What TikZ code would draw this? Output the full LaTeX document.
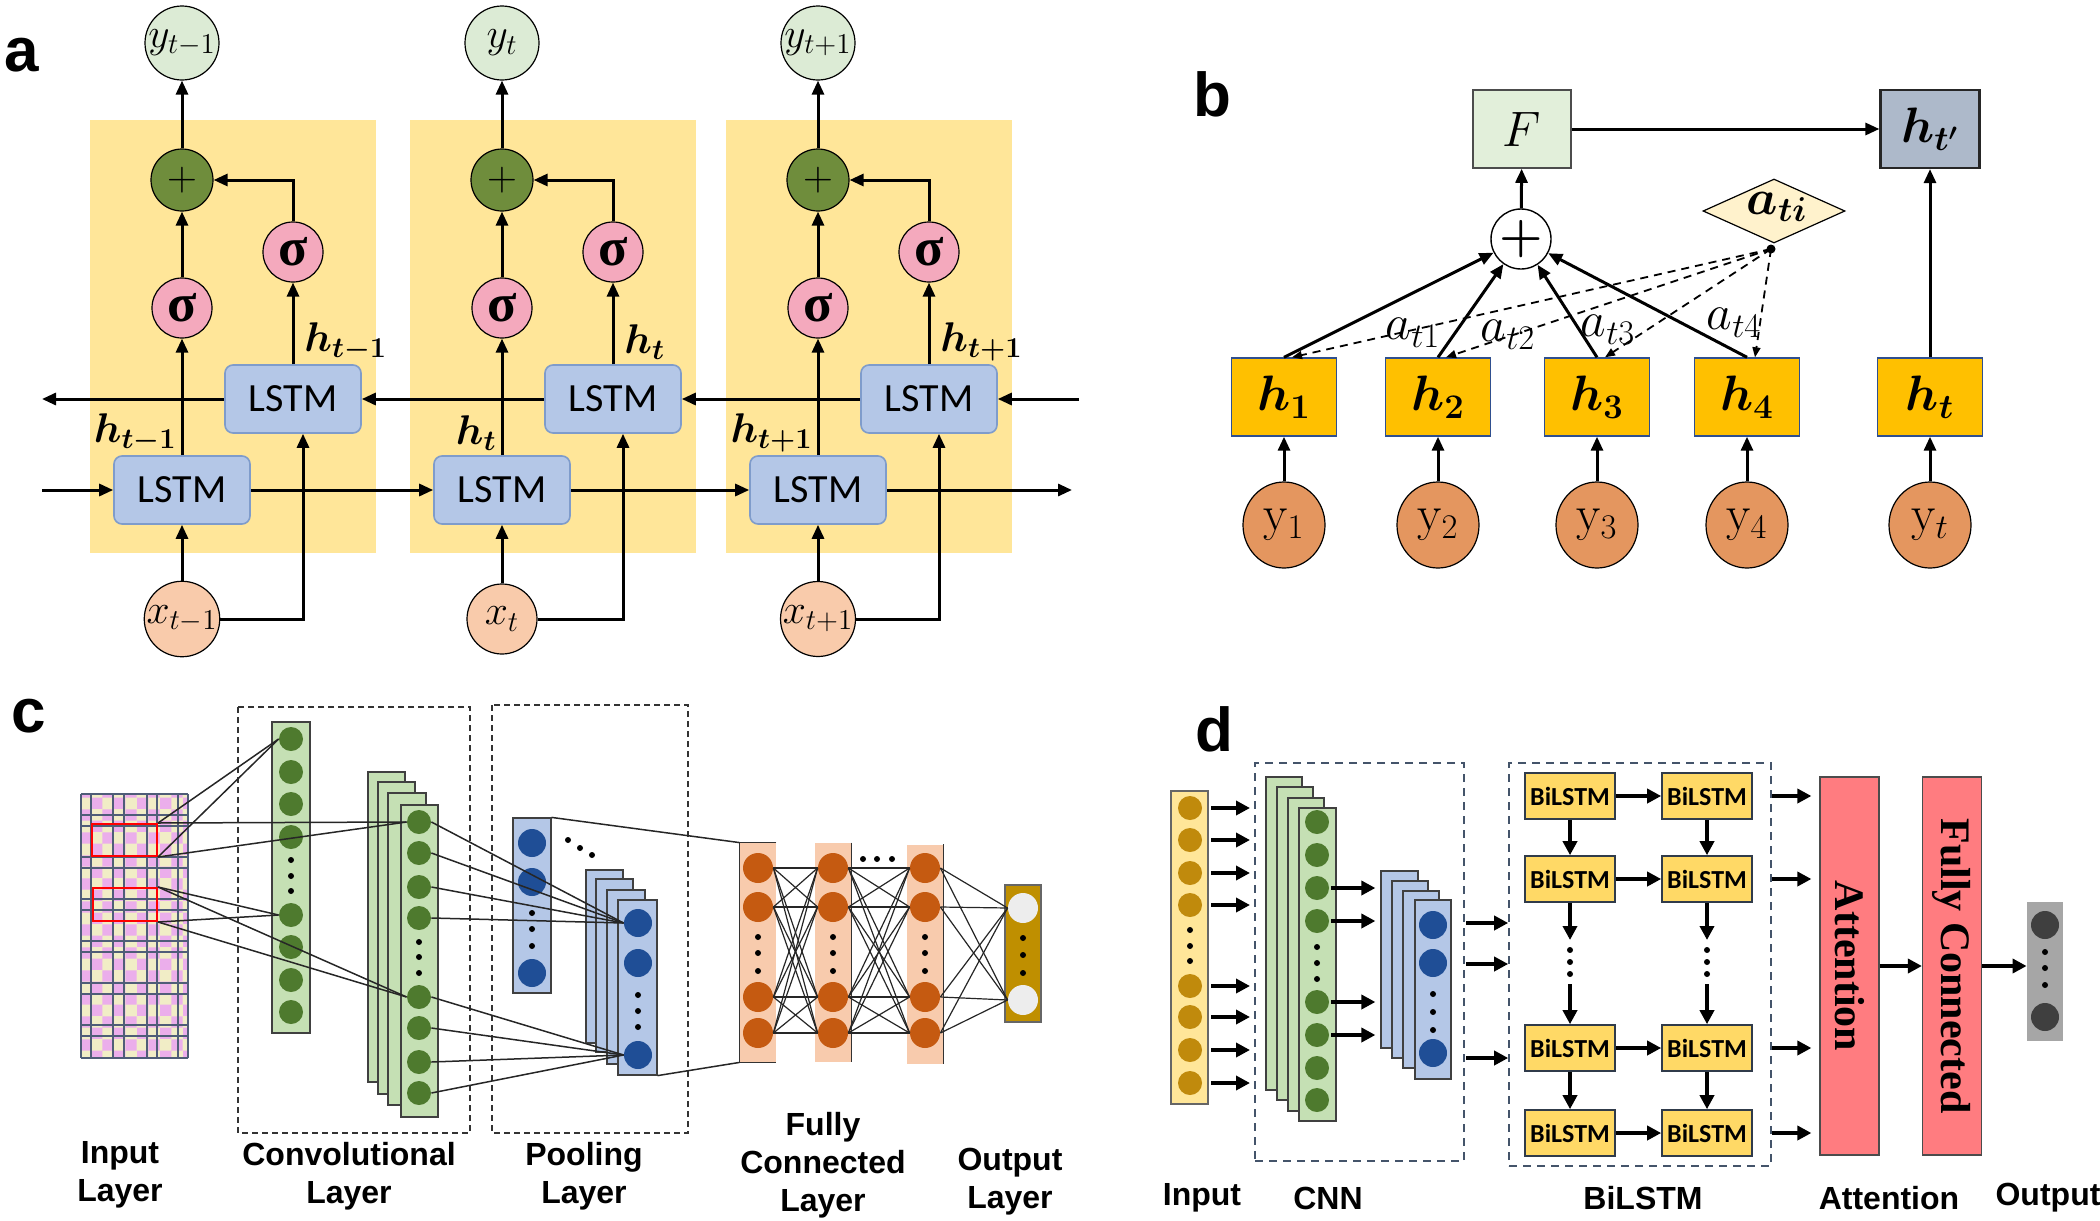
\documentclass[tikz,border=0pt]{standalone}
\usepackage{amsmath}
\usepackage{fontspec}
\newfontfamily\carlito{Carlito}
\newfontfamily\arialf{Liberation Sans}
\newfontfamily\timesf{Liberation Serif}
\usetikzlibrary{arrows.meta,shapes.geometric,patterns}
\newcommand\fsz[2]{\fontsize{#1}{#2}\selectfont}
\definecolor{ayel}{HTML}{FFE699}
\definecolor{lstmfill}{HTML}{B4C7E7}
\definecolor{lstmdraw}{HTML}{7F9CCB}
\definecolor{sigfill}{HTML}{F4A9BD}
\definecolor{plusfill}{HTML}{6F8D3C}
\definecolor{ycfill}{HTML}{DCEBD5}
\definecolor{xcfill}{HTML}{F9CBAB}
\definecolor{ffill}{HTML}{E2EFDA}
\definecolor{hpfill}{HTML}{ADB9CA}
\definecolor{hfill}{HTML}{FFC000}
\definecolor{hdraw}{HTML}{2F4F8F}
\definecolor{efill}{HTML}{E4965F}
\definecolor{dfill}{HTML}{FFF2CC}
\definecolor{gridbase}{HTML}{F1EDC6}
\definecolor{gridpink}{HTML}{EBAEEB}
\definecolor{gridline}{HTML}{4F5D78}
\definecolor{gbar}{HTML}{C5E0B4}
\definecolor{gdot}{HTML}{4E7A2E}
\definecolor{bbar}{HTML}{B4C7E7}
\definecolor{bdot}{HTML}{1F4E96}
\definecolor{obar}{HTML}{F8CBAD}
\definecolor{odot}{HTML}{C55A11}
\definecolor{goldbar}{HTML}{BF8F00}
\definecolor{inbar}{HTML}{FFE699}
\definecolor{indot}{HTML}{C08A0C}
\definecolor{bilfill}{HTML}{FFD966}
\definecolor{navy}{HTML}{44546A}
\definecolor{redbox}{HTML}{FF7C80}
\definecolor{graybar}{HTML}{A6A6A6}
\definecolor{graydot}{HTML}{3F3F3F}
\begin{document}
\begin{tikzpicture}[x=0.5pt,y=-0.5pt,
  every node/.style={inner sep=0pt},
  arr/.style={line width=1.5pt,-{Triangle[length=7pt,width=6pt]}},
  dasharr/.style={line width=0.9pt,dash pattern=on 4pt off 3pt,-{Triangle[length=5pt,width=4pt]}},
  dar/.style={line width=2pt,-{Triangle[length=7pt,width=7pt]}},
  cl/.style={line width=0.75pt,black!85},
  ycirc/.style={circle,draw,line width=0.6pt,fill=ycfill,minimum size=37pt,font=\fsz{20}{24}},
  pcirc/.style={circle,draw,line width=0.6pt,fill=plusfill,minimum size=31pt,font=\fsz{20}{24}},
  scirc/.style={circle,draw,line width=0.6pt,fill=sigfill,minimum size=30pt,font=\timesf\bfseries\fsz{27}{30}},
  xcirc/.style={circle,draw,line width=0.6pt,fill=xcfill,minimum size=35pt,font=\fsz{20}{24}},
  lstm/.style={rectangle,rounded corners=4pt,draw=lstmdraw,line width=0.8pt,fill=lstmfill,minimum width=68pt,minimum height=34pt,font=\carlito\fsz{20}{24}},
  hlab/.style={font=\fsz{20}{24}},
  fbox/.style={draw=black!70,line width=0.8pt,fill=ffill,minimum width=49pt,minimum height=39pt,font=\fsz{23}{27}},
  hpbox/.style={draw=black!85,line width=1.1pt,fill=hpfill,minimum width=49.5pt,minimum height=39pt,font=\fsz{23}{27}},
  hbox/.style={draw=hdraw,line width=0.7pt,fill=hfill,minimum width=52.5pt,minimum height=39pt,font=\fsz{23}{27}},
  yell/.style={ellipse,draw,line width=0.6pt,fill=efill,minimum width=41pt,minimum height=43pt,font=\fsz{25}{29}},
  bplus/.style={circle,draw,line width=0.7pt,fill=white,minimum size=30pt,font=\fsz{26}{30}},
  alab/.style={font=\fsz{23}{27}},
  gcirc/.style={circle,fill=gdot,minimum size=12pt},
  bcirc/.style={circle,fill=bdot,minimum size=14pt},
  ocirc/.style={circle,fill=odot,minimum size=15pt},
  wcirc/.style={circle,fill=black!7,minimum size=15pt},
  icirc/.style={circle,fill=indot,minimum size=12pt},
  kcirc/.style={circle,fill=graydot,minimum size=14pt},
  layer/.style={draw=black!75,line width=0.6pt},
  redr/.style={draw=red,line width=1pt},
  cdash/.style={draw=black!80,line width=0.7pt,dash pattern=on 3pt off 2pt},
  ddash/.style={draw=navy,line width=0.8pt,dash pattern=on 4pt off 3pt},
  clab/.style={font=\arialf\bfseries\fsz{16}{19},align=center},
  plab/.style={font=\arialf\bfseries\fsz{31}{34}},
  bil/.style={draw=navy!70!black,line width=0.8pt,fill=bilfill,minimum width=45pt,minimum height=23pt,font=\carlito\bfseries\fsz{13}{15}},
  tall/.style={draw=black!70,line width=0.6pt,fill=redbox,minimum width=29.5pt,minimum height=189pt}
]
\useasboundingbox (0,0) rectangle (2100,1221);

% ---------------- panel labels
\node[plab] (la) at (22,55) {a};
\node[plab] (lb) at (1212,94) {b};
\node[plab] (lc) at (29,716) {c};
\node[plab] (ld) at (1214,729) {d};

% ---------------- panel a
\foreach \dx in {0,320,636}{
  \fill[ayel] (90+\dx,120) rectangle (376+\dx,553);
}
\foreach \i/\dx/\s in {1/0/t-1,2/320/t,3/636/t+1}{
  \node[ycirc] (y\i) at (182+\dx,43) {$y_{\s}$};
  \node[pcirc] (p\i) at (182+\dx,180) {$+$};
  \node[scirc] (sl\i) at (182+\dx,308) {σ};
  \node[scirc] (su\i) at (293+\dx,252) {σ};
  \node[lstm] (U\i) at (293+\dx,399) {LSTM};
  \node[lstm] (L\i) at (182+\dx,490) {LSTM};
  \node[xcirc] (x\i) at (182+\dx,619) {$x_{\s}$};
  \node[hlab,anchor=west] (hu\i) at (304+\dx,342) {$\boldsymbol{h_{\s}}$};
  \node[hlab,anchor=east] (hl\i) at (177+\dx,433) {$\boldsymbol{h_{\s}}$};
  \draw[arr] (x\i) -- (L\i);
  \draw[arr] (x\i.east) -| ([xshift=5pt]U\i.south);
  \draw[arr] (L\i) -- (sl\i);
  \draw[arr] (sl\i) -- (p\i);
  \draw[arr] (p\i) -- (y\i);
  \draw[arr] (U\i) -- (su\i);
  \draw[arr] (su\i) |- (p\i);
}
\coordinate (aLin) at (42,490);
\coordinate (aLout) at (1072,490);
\coordinate (aUin) at (1079,399);
\coordinate (aUout) at (42,399);
\draw[arr] (aLin) -- (L1);
\draw[arr] (L1) -- (L2);
\draw[arr] (L2) -- (L3);
\draw[arr] (L3) -- (aLout);
\draw[arr] (aUin) -- (U3);
\draw[arr] (U3) -- (U2);
\draw[arr] (U2) -- (U1);
\draw[arr] (U1) -- (aUout);

% ---------------- panel b
\node[fbox] (F) at (1522,129) {$F$};
\node[hpbox] (hp) at (1930,129) {$\boldsymbol{h_{t'}}$};
\node[bplus] (plus) at (1521,239) {$\boldsymbol{+}$};
\node[diamond,draw,line width=0.6pt,fill=dfill,minimum width=71pt,minimum height=32pt] (ati) at (1774,211) {};
\node[font=\fsz{23}{27}] (atit) at (1777,207) {$\boldsymbol{a_{ti}}$};
\coordinate (dot) at (1771,249);
\fill (dot) circle (4.5);
\foreach \i/\xx/\lab in {1/1284/1,2/1438/2,3/1597/3,4/1747/4,t/1930/t}{
  \node[hbox] (h\i) at (\xx,397) {$\boldsymbol{h_{\lab}}$};
  \node[yell] (e\i) at (\xx,525) {$\mathrm{y}_{\lab}$};
  \draw[arr] (e\i) -- (h\i);
}
\foreach \i in {1,2,3,4}{
  \draw[dasharr] (dot) -- ([xshift=4pt]h\i.north);
  \draw[arr] (h\i.north) -- (plus);
}
\node[alab] (a1) at (1413,333) {$a_{t1}$};
\node[alab] (a2) at (1508,335) {$a_{t2}$};
\node[alab] (a3) at (1608,330) {$a_{t3}$};
\node[alab] (a4) at (1734,323) {$a_{t4}$};
\draw[arr] (plus) -- (F);
\draw[arr] (F) -- (hp);
\draw[arr] (ht) -- (hp);

% ---------------- panel c
\fill[gridbase] (81,794) rectangle (188,1058);
\fill[pattern=checkerboard,pattern color=gridpink] (81,794) rectangle (188,1058);
\foreach \gx in {81,91,113,124,147,157,178,188} \draw[gridline,line width=0.8pt] (\gx,794) -- (\gx,1058);
\foreach \gy in {794,815,826,857,868,899,910,941,952,983,994,1025,1036,1058} \draw[gridline,line width=0.8pt] (81,\gy) -- (188,\gy);
\node[redr,minimum width=32.5pt,minimum height=16pt] (r1) at (124.5,840) {};
\node[redr,minimum width=32pt,minimum height=16.5pt] (r2) at (125,904.5) {};

\draw[cdash] (238,707) rectangle (470,1133);
\draw[cdash] (492,705) rectangle (688,1133);

% conv column
\filldraw[fill=gbar,layer] (272,722) rectangle (310,1033);
\foreach \k/\yy in {1/739,2/772,3/804,4/837,5/915,6/947,7/980,8/1012} \node[gcirc] (c\k) at (291,\yy) {};
\foreach \yy in {860,876,891} \fill (291,\yy) circle (3);
% conv stack
\foreach \ax/\ay/\bx/\by in {368/772/405/1082,378/782/415/1094,388/793/426/1105,401/805/438/1117}
  \filldraw[fill=gbar,layer] (\ax,\ay) rectangle (\bx,\by);
\foreach \k/\yy in {1/822,2/853,3/887,4/918,5/997,6/1028,7/1062,8/1093} \node[gcirc] (s\k) at (419,\yy) {};
\foreach \yy in {942,957,973} \fill (419,\yy) circle (3);
% pool bar
\node[fill=bbar,draw=black!75,line width=0.6pt,minimum width=19pt,minimum height=87.5pt] (pbar) at (532,905.5) {};
\node[bcirc] (pa1) at (532,843) {};
\node[bcirc] (pa2) at (532,882) {};
\node[bcirc] (pa3) at (532,973) {};
\foreach \yy in {913,929,946} \fill (532,\yy) circle (3);
\foreach \xx/\yy in {568/840,580/848,592/855} \fill (\xx,\yy) circle (3);
% pool stack
\foreach \ax/\ay/\bx/\by in {586/870/623/1043,596/879/633/1052,607/890/645/1064}
  \filldraw[fill=bbar,layer] (\ax,\ay) rectangle (\bx,\by);
\node[fill=bbar,draw=black!75,line width=0.6pt,minimum width=19.5pt,minimum height=87.5pt] (pfront) at (637.5,987.5) {};
\node[bcirc] (q1) at (638,923) {};
\node[bcirc] (q2) at (638,963) {};
\node[bcirc] (q3) at (638,1055) {};
\foreach \yy in {995,1011,1027} \fill (638,\yy) circle (3);
% fully connected
\node[fill=obar,minimum width=18pt,minimum height=109.5pt] (barA) at (758,952.5) {};
\node[fill=obar,minimum width=18pt,minimum height=109.5pt] (barB) at (833,952.5) {};
\node[fill=obar,minimum width=18pt,minimum height=109.5pt] (barC) at (925,954) {};
\draw[black!80,line width=0.7pt] (barA.north east) -- (barA.north west) -- (barA.south west) -- (barA.south east);
\draw[black!80,line width=0.7pt] (barB.north east) -- (barB.south east);
\draw[black!80,line width=0.7pt] (barC.north east) -- (barC.south east);
\foreach \b/\xx in {a/758,b/833,c/925}{
  \foreach \k/\yy in {1/868,2/907,3/997,4/1033} \node[ocirc] (f\b\k) at (\xx,\yy) {};
  \foreach \yy in {937,953,971} \fill (\xx,\yy) circle (3);
}
\foreach \xx in {863,877,892} \fill (\xx,859) circle (3);
\node[fill=goldbar,draw=black!60,line width=0.6pt,minimum width=18pt,minimum height=68.5pt] (obarn) at (1023,953.5) {};
\node[wcirc] (o1) at (1023,908) {};
\node[wcirc] (o2) at (1023,1000) {};
\foreach \yy in {938,955,973} \fill (1023,\yy) circle (3);
% connections c
\draw[cl] (r1.north east) -- (c1.west);
\draw[cl] (r1.south east) -- (c1.west);
\draw[cl] (r1.north east) -- (s1.west);
\draw[cl] (r1.south east) -- (s1.west);
\draw[cl] (r2.north east) -- (c5.west);
\draw[cl] (r2.south east) -- (c5.west);
\draw[cl] (r2.north east) -- (s5.west);
\draw[cl] (r2.south east) -- (s5.west);
\foreach \k in {1,2,3,4} \draw[cl] (s\k.east) -- (q1.west);
\foreach \k in {5,6,7,8} \draw[cl] (s\k.east) -- (q3.west);
\draw[cl] (pbar.north east) -- (barA.north west);
\draw[cl] (pfront.south east) -- (barA.south west);
\foreach \a in {1,2,3,4}{
  \foreach \b in {1,2,3,4}{
    \draw[cl,line width=0.6pt] (fa\a.east) -- (fb\b.west);
    \draw[cl,line width=0.6pt] (fb\a.east) -- (fc\b.west);
  }
  \draw[cl,line width=0.6pt] (fc\a.east) -- (o1.west);
  \draw[cl,line width=0.6pt] (fc\a.east) -- (o2.west);
}
\node[clab] (tin) at (120,1175) {Input\\Layer};
\node[clab] (tconv) at (349,1176) {Convolutional\\Layer};
\node[clab] (tpool) at (584,1176) {Pooling\\Layer};
\node[clab] (tfc) at (823,1165) {Fully\\Connected\\Layer};
\node[clab] (tout) at (1010,1182) {Output\\Layer};

% ---------------- panel d
\node[fill=inbar,draw=black!60,line width=0.6pt,minimum width=18.5pt,minimum height=156.5pt] (dinbar) at (1189.5,947.5) {};
\foreach \k/\yy in {1/808,2/840,3/873,4/905,5/986,6/1017,7/1050,8/1083}{
  \node[icirc] (di\k) at (1190,\yy) {};
  \coordinate (dia\k) at (1250,\yy);
  \draw[dar] ([xshift=4.5pt]di\k.east) -- (dia\k);
}
\foreach \yy in {930,946,961} \fill (1190,\yy) circle (3);
\node[ddash,minimum width=104.5pt,minimum height=199pt] (cnnbox) at (1359.5,962) {};
\foreach \ax/\ay/\bx/\by in {1266/777/1302/1090,1277/787/1313/1100,1288/798/1324/1111,1299/808/1336/1121}
  \filldraw[fill=gbar,layer] (\ax,\ay) rectangle (\bx,\by);
\foreach \k/\yy in {1/822,2/855,3/888,4/921,5/1002,6/1035,7/1068,8/1100} \node[gcirc] (dg\k) at (1317,\yy) {};
\foreach \yy in {947,963,979} \fill (1317,\yy) circle (3);
\foreach \k in {3,4,5,6}{
  \coordinate (dga\k) at ([xshift=23pt]dg\k.east);
  \draw[dar] ([xshift=1pt]dg\k.east) -- (dga\k);
}
\foreach \ax/\ay/\bx/\by in {1381/871/1418/1048,1392/881/1428/1058,1403/891/1439/1068,1415/900/1451/1079}
  \filldraw[fill=bbar,layer] (\ax,\ay) rectangle (\bx,\by);
\node[bcirc] (db1) at (1433,925) {};
\node[bcirc] (db2) at (1433,963) {};
\node[bcirc] (db3) at (1433,1053) {};
\foreach \yy in {994,1012,1030} \fill (1433,\yy) circle (3);
\node[ddash,minimum width=131pt,minimum height=201.5pt] (bilbox) at (1640,964.5) {};
\foreach \k/\yy in {1/923,2/964,3/1058}{
  \coordinate (cb\k) at (1466,\yy);
  \draw[dar] (cb\k) -- (bilbox.west |- cb\k);
}
\foreach \r/\yy in {1/796,2/879,3/1048,4/1133}{
  \node[bil] (bl\r1) at (1570,\yy) {BiLSTM};
  \node[bil] (bl\r2) at (1707,\yy) {BiLSTM};
  \draw[dar] (bl\r1) -- (bl\r2);
}
\draw[dar] (bl11) -- (bl21);
\draw[dar] (bl12) -- (bl22);
\draw[dar] (bl31) -- (bl41);
\draw[dar] (bl32) -- (bl42);
\foreach \c/\xx in {1/1570,2/1707}{
  \coordinate (va\c) at (\xx,940);
  \coordinate (vb\c) at (\xx,984);
  \draw[dar] (bl2\c) -- (va\c);
  \draw[dar] (vb\c) -- (bl3\c);
  \foreach \yy in {950,962,974} \fill (\xx,\yy) circle (3);
}
\node[tall] (att) at (1849.5,966) {};
\node[rotate=-90,font=\timesf\bfseries\fsz{21}{25}] (attt) at (att) {Attention};
\node[tall] (fcd) at (1952,966) {};
\node[rotate=-90,font=\timesf\bfseries\fsz{21}{25}] (fcdt) at (fcd) {Fully Connected};
\foreach \r in {1,2,3,4}{
  \draw[dar,shorten >=4pt] (bilbox.east |- bl\r2) -- (att.west |- bl\r2);
}
\draw[dar] (att) -- (fcd);
\node[fill=graybar,minimum width=18pt,minimum height=69.5pt] (dout) at (2045,971.5) {};
\node[kcirc] (k1) at (2045,925) {};
\node[kcirc] (k2) at (2045,1017) {};
\foreach \yy in {952,968,985} \fill (2045,\yy) circle (3);
\draw[dar] (fcd) -- (fcd -| dout.west);
\node[clab] (din) at (1202,1198) {Input};
\node[clab] (dcnn) at (1328,1198) {CNN};
\node[clab] (dbil) at (1643,1198) {BiLSTM};
\node[clab] (datt) at (1889,1198) {Attention};
\node[clab] (dou) at (2048,1198) {Output};
\end{tikzpicture}
\end{document}
